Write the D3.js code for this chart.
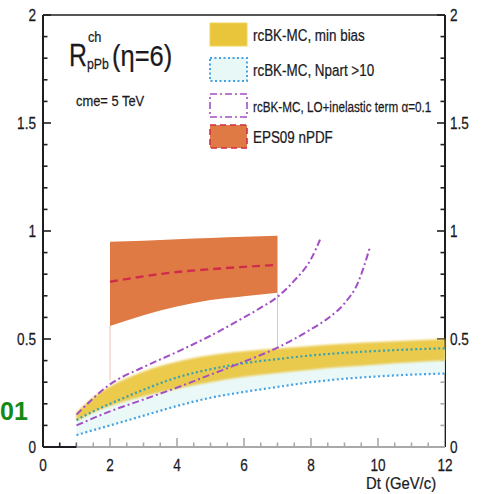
<!DOCTYPE html>
<html>
<head>
<meta charset="utf-8">
<script src="https://cdn.jsdelivr.net/npm/d3@7"></script>
<style>
  html, body { margin: 0; padding: 0; background: #fff; }
  svg { display: block; }
  text { font-family: "Liberation Sans", Arial, sans-serif; fill: #1a1a1e; stroke: #1a1a1e; stroke-width: 0.25; }
</style>
</head>
<body>
<svg id="chart" width="483" height="494"></svg>
<script>
// ---- data ----
const ptGrid      = [1, 1.5, 2, 3, 4, 5, 6, 7, 8, 9, 10, 11, 12];
const minBiasHi   = [0.16, 0.23, 0.28, 0.35, 0.395, 0.425, 0.443, 0.456, 0.468, 0.478, 0.486, 0.493, 0.50];
const minBiasLo   = [0.12, 0.16, 0.19, 0.235, 0.27, 0.30, 0.325, 0.343, 0.358, 0.371, 0.382, 0.392, 0.40];
const npartHi     = [0.125, 0.165, 0.20, 0.265, 0.322, 0.36, 0.388, 0.407, 0.424, 0.436, 0.445, 0.452, 0.457];
const npartLo     = [0.055, 0.078, 0.10, 0.145, 0.19, 0.228, 0.255, 0.278, 0.30, 0.316, 0.327, 0.335, 0.34];

const inelUpperPt = [1, 2, 3, 4, 5, 6, 6.5, 7, 7.5, 8, 8.27];
const inelUpper   = [0.15, 0.29, 0.37, 0.44, 0.515, 0.60, 0.645, 0.695, 0.77, 0.87, 0.96];
const inelLowerPt = [1, 2, 3, 4, 5, 6, 7, 7.5, 8, 8.5, 9, 9.4, 9.75];
const inelLower   = [0.10, 0.165, 0.22, 0.275, 0.335, 0.395, 0.46, 0.50, 0.545, 0.595, 0.665, 0.76, 0.92];

const epsPt       = [2, 3, 4, 5, 6, 7];
const epsHi       = [0.95, 0.955, 0.962, 0.968, 0.973, 0.978];
const epsLo       = [0.56, 0.61, 0.65, 0.68, 0.698, 0.714];
const epsMid      = [0.765, 0.79, 0.81, 0.823, 0.834, 0.843];
const epsEdgePt   = [2, 7];
const epsEdgeLow  = [0.31, 0.46];

const yTicksMajor = [0, 0.5, 1, 1.5, 2];
const yTickLabels = ["0", "0.5", "1", "1.5", "2"];
const xTicksMajor = [0, 2, 4, 6, 8, 10, 12];
const xTickLabels = ["0", "2", "4", "6", "8", "10", "12"];

const legendLabels = [
  "rcBK-MC, min bias",
  "rcBK-MC, Npart >10",
  "rcBK-MC, LO+inelastic term \u03b1=0.1",
  "EPS09 nPDF"
];

// ---- styles ----
const C = {
  yellow: "#e9c53c",
  cyanFill: "#e8f8f6",
  teal: "#36a2b2",
  blue: "#46a2e2",
  purple: "#a24fc6",
  orange: "#e07a45",
  crimson: "#cf2c4a",
  axis: "#1e1e22"
};

const svg = d3.select("#chart");
const x = d3.scaleLinear().domain([0, 12]).range([43, 445]);
const y = d3.scaleLinear().domain([0, 2]).range([447, 15]);

const defs = svg.append("defs");
defs.append("filter").attr("id", "soft")
  .append("feGaussianBlur").attr("stdDeviation", 0.8);

function txt(parent, px, py, str, size, sx, anchor) {
  return parent.append("text")
    .attr("transform", `translate(${px},${py}) scale(${sx},1)`)
    .attr("font-size", size)
    .attr("text-anchor", anchor || "start")
    .text(str);
}

// ---- frame and axes ----
const axes = svg.append("g");
axes.append("line").attr("x1", x(0)).attr("x2", x(0)).attr("y1", y(2)).attr("y2", y(0))
  .attr("stroke", C.axis).attr("stroke-width", 2);
axes.append("line").attr("x1", x(12)).attr("x2", x(12)).attr("y1", y(2)).attr("y2", y(0))
  .attr("stroke", C.axis).attr("stroke-width", 2);
axes.append("line").attr("x1", x(0)).attr("x2", x(12)).attr("y1", y(2)).attr("y2", y(2))
  .attr("stroke", C.axis).attr("stroke-width", 1.6);
axes.append("line").attr("x1", x(0)).attr("x2", x(12)).attr("y1", y(0)).attr("y2", y(0))
  .attr("stroke", C.axis).attr("stroke-width", 2);

// y ticks (inward on both sides)
const yMinor = d3.range(0, 2.0001, 0.1).map(v => +v.toFixed(2));
yMinor.forEach(v => {
  const major = yTicksMajor.some(m => Math.abs(m - v) < 1e-6);
  const len = major ? 8 : 4.5;
  axes.append("line").attr("x1", x(0)).attr("x2", x(0) + len)
    .attr("y1", y(v)).attr("y2", y(v)).attr("stroke", C.axis).attr("stroke-width", 1.6);
  axes.append("line").attr("x1", x(12)).attr("x2", x(12) - len)
    .attr("y1", y(v)).attr("y2", y(v)).attr("stroke", C.axis).attr("stroke-width", 1.6);
});
// x ticks (upward)
const xMinor = d3.range(0, 12.0001, 0.5);
xMinor.forEach(v => {
  const major = xTicksMajor.includes(v);
  axes.append("line").attr("x1", x(v)).attr("x2", x(v))
    .attr("y1", y(0)).attr("y2", y(0) - (major ? 9 : 4.5))
    .attr("stroke", C.axis).attr("stroke-width", 1.6);
});

// tick labels
yTicksMajor.forEach((v, i) => {
  txt(axes, 36, y(v) + 6, yTickLabels[i], 17, 0.8, "end");
  txt(axes, 450, y(v) + 6, yTickLabels[i], 17, 0.8, "start");
});
xTicksMajor.forEach((v, i) => {
  txt(axes, x(v), 471, xTickLabels[i], 17, 0.8, "middle");
});
txt(axes, 366, 489, "Dt (GeV/c)", 16.5, 0.9, "start");

// ---- Npart > 10 band (washes out the axis beneath it) ----
const plot = svg.append("g");
const idx = d3.range(ptGrid.length);
plot.append("path")
  .attr("d", d3.area().curve(d3.curveMonotoneX)
    .x(i => x(ptGrid[i])).y0(y(-0.006)).y1(i => y(npartLo[i]))(idx))
  .attr("fill", "#ffffff").attr("fill-opacity", 0.62);
plot.append("path")
  .attr("d", d3.area().curve(d3.curveMonotoneX)
    .x(i => x(ptGrid[i])).y0(i => y(npartLo[i])).y1(i => y(npartHi[i]))(idx))
  .attr("fill", C.cyanFill).attr("fill-opacity", 0.9);

// ---- min bias band ----
plot.append("path")
  .attr("d", d3.area().curve(d3.curveMonotoneX)
    .x(i => x(ptGrid[i])).y0(i => y(minBiasLo[i])).y1(i => y(minBiasHi[i]))(idx))
  .attr("fill", C.yellow).attr("fill-opacity", 0.92).attr("filter", "url(#soft)");

// Npart > 10 dotted edges
const lineIdx = (xs, ys) => d3.line().curve(d3.curveMonotoneX)
  .x(i => x(xs[i])).y(i => y(ys[i]))(d3.range(xs.length));
plot.append("path").attr("d", lineIdx(ptGrid, npartHi))
  .attr("fill", "none").attr("stroke", C.teal).attr("stroke-width", 2.2)
  .attr("stroke-dasharray", "2,2.6");
plot.append("path").attr("d", lineIdx(ptGrid, npartLo))
  .attr("fill", "none").attr("stroke", C.blue).attr("stroke-width", 2.2)
  .attr("stroke-dasharray", "2,2.6");

// ---- EPS09 band ----
const eIdx = d3.range(epsPt.length);
epsEdgePt.forEach((p, i) => {
  plot.append("line").attr("x1", x(p)).attr("x2", x(p))
    .attr("y1", y(epsLo[p === epsPt[0] ? 0 : epsPt.length - 1])).attr("y2", y(epsEdgeLow[i]))
    .attr("stroke", "#f1c2b6").attr("stroke-width", 1);
});
plot.append("path")
  .attr("d", d3.area().curve(d3.curveMonotoneX)
    .x(i => x(epsPt[i])).y0(i => y(epsLo[i])).y1(i => y(epsHi[i]))(eIdx))
  .attr("fill", C.orange);
plot.append("path").attr("d", lineIdx(epsPt, epsMid))
  .attr("fill", "none").attr("stroke", C.crimson).attr("stroke-width", 2.4)
  .attr("stroke-dasharray", "8,5");

// ---- LO + inelastic term curves ----
[[inelUpperPt, inelUpper], [inelLowerPt, inelLower]].forEach(([xs, ys]) => {
  plot.append("path").attr("d", lineIdx(xs, ys))
    .attr("fill", "none").attr("stroke", C.purple).attr("stroke-width", 2)
    .attr("stroke-dasharray", "7,3,2,3");
});

// ---- title ----
const title = svg.append("g");
txt(title, 69, 66, "R", 31, 0.8);
txt(title, 88, 42, "ch", 15, 0.85);
txt(title, 87, 69, "pPb", 15, 0.82);
txt(title, 112, 66, "(\u03b7=6)", 29, 0.88);
txt(title, 76, 106, "cme= 5 TeV", 15, 0.86);

// ---- legend ----
const legend = svg.append("g");
const rowsY = [23, 58, 94, 125];
const boxW = 37, boxH = 23;
const boxStyles = [
  { fill: C.yellow, stroke: "#f0d45e", dash: null, sw: 1 },
  { fill: C.cyanFill, stroke: C.blue, dash: "2,2.5", sw: 2 },
  { fill: "#ffffff", stroke: C.purple, dash: "7,3,2,3", sw: 1.6 },
  { fill: C.orange, stroke: C.crimson, dash: "6,4", sw: 1.6 }
];
const labelSize = [17, 17, 15.5, 17];
const labelScale = [0.79, 0.79, 0.755, 0.79];
legendLabels.forEach((lab, i) => {
  const s = boxStyles[i];
  legend.append("rect").attr("x", 210).attr("y", rowsY[i]).attr("width", boxW).attr("height", boxH)
    .attr("fill", s.fill).attr("stroke", s.stroke).attr("stroke-width", s.sw)
    .attr("stroke-dasharray", s.dash);
  txt(legend, 253, rowsY[i] + 18, lab, labelSize[i], labelScale[i]);
});

// marginal label at the left edge
svg.append("text").attr("x", 0).attr("y", 420)
  .attr("font-size", 25).attr("font-weight", "bold")
  .style("fill", "#138a13").style("stroke", "none").text("01");
</script>
</body>
</html>
